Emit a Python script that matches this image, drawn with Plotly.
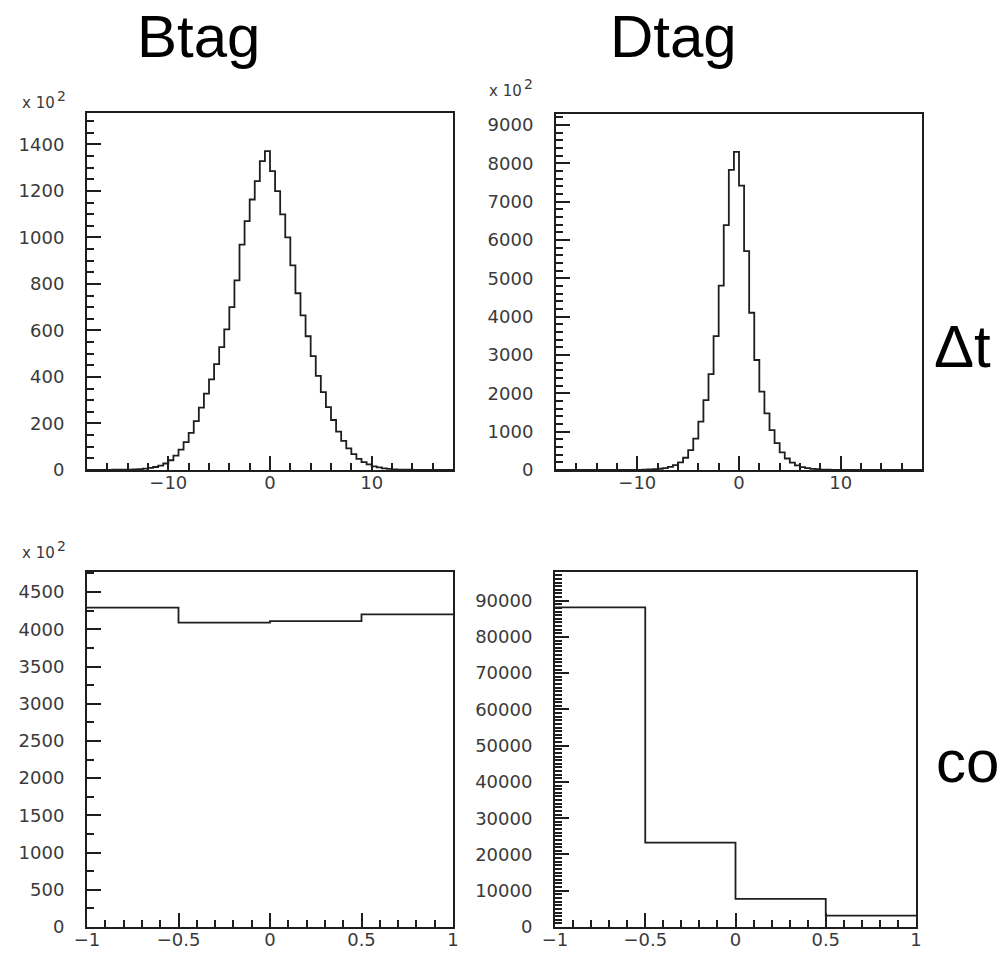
import plotly.graph_objects as go

# ---- data -------------------------------------------------------------
# Δt histograms: 72 bins of width 0.5 from -18 to 18 (counts in units of 10^2)
DT_LO, DT_BIN = -18.0, 0.5
BTAG_DT = [0, 0, 0, 0, 0.5, 1, 1, 1.5, 2, 3, 4, 6, 9, 13, 19, 28, 42, 62, 88, 120,
           160, 210, 268, 328, 390, 455, 528, 605, 700, 815, 969, 1070, 1163, 1242,
           1328, 1371, 1285, 1199, 1099, 1000, 880, 760, 665, 575, 490, 405, 335,
           270, 215, 165, 125, 93, 68, 48, 34, 24, 16, 11, 7, 5, 3, 2, 1.5, 1, 0.5,
           0, 0, 0, 0, 0, 0, 0]
DTAG_DT = [0, 0, 0, 0, 0, 0, 0, 0, 0, 0, 0, 0, 0, 1, 2, 3, 5, 8, 13, 20, 32, 50, 80,
           125, 200, 320, 520, 820, 1261, 1826, 2504, 3496, 4809, 6391, 7830, 8304,
           7420, 5713, 4104, 2870, 2043, 1478, 1043, 700, 460, 300, 190, 120, 75, 48,
           30, 19, 12, 7, 4, 2, 1, 0, 0, 0, 0, 0, 0, 0, 0, 0, 0, 0, 0, 0, 0, 0]

# cos histograms: 4 bins on [-1, 1]
COS_EDGES = [-1.0, -0.5, 0.0, 0.5, 1.0]
BTAG_COS = [4290, 4090, 4110, 4200]      # units of 10^2
DTAG_COS = [88150, 23270, 7730, 3120]

# tick labels
DT_XTICKS = [-10, 0, 10]
COS_XTICKS = [-1, -0.5, 0, 0.5, 1]
BTAG_DT_YTICKS = [0, 200, 400, 600, 800, 1000, 1200, 1400]
DTAG_DT_YTICKS = [0, 1000, 2000, 3000, 4000, 5000, 6000, 7000, 8000, 9000]
BTAG_COS_YTICKS = [0, 500, 1000, 1500, 2000, 2500, 3000, 3500, 4000, 4500]
DTAG_COS_YTICKS = [0, 10000, 20000, 30000, 40000, 50000, 60000, 70000, 80000, 90000]

COL_TITLES = ["Btag", "Dtag"]
ROW_TITLES = ["Δt", "co"]

# ---- helpers ----------------------------------------------------------
W, H = 999, 954
LINE = "#1e1e1e"
LABEL = "#3a3a3a"
TICKFONT = dict(family="DejaVu Sans", size=18, color=LABEL)


def fmt(v):
    s = ("%g" % v)
    return s.replace("-", "\u2212")


def step_xy(edges, vals):
    xs = list(edges[:-1]) + [edges[-1]]
    ys = list(vals) + [vals[-1]]
    return xs, ys


def dx(px):
    return px / W


def dy(py):
    return 1 - py / H


dt_edges = [DT_LO + DT_BIN * i for i in range(len(BTAG_DT) + 1)]

panels = [
    # (axis suffix, values, edges, x range, y range, xticks, x minor, yticks, y minor, box px)
    ("", BTAG_DT, dt_edges, [-18, 18], [0, 1535], DT_XTICKS, 2, BTAG_DT_YTICKS, 50,
     (87, 453, 113, 470)),
    ("2", DTAG_DT, dt_edges, [-18, 18], [0, 9290], DT_XTICKS, 2, DTAG_DT_YTICKS, 200,
     (556, 922, 114, 470)),
    ("3", BTAG_COS, COS_EDGES, [-1, 1], [0, 4770], COS_XTICKS, 0.1, BTAG_COS_YTICKS, 250,
     (87, 453, 572, 927)),
    ("4", DTAG_COS, COS_EDGES, [-1, 1], [0, 97900], COS_XTICKS, 0.1, DTAG_COS_YTICKS, 1000,
     (555, 916, 572, 927)),
]

fig = go.Figure()
layout = dict(
    width=W, height=H,
    margin=dict(l=0, r=0, t=0, b=0, autoexpand=False),
    paper_bgcolor="white", plot_bgcolor="white",
    showlegend=False,
)

for sid, vals, edges, xr, yr, xt, xminor, yt, yminor, (x0, x1, y0, y1) in panels:
    xs, ys = step_xy(edges, vals)
    fig.add_trace(go.Scatter(
        x=xs, y=ys, mode="lines", line=dict(shape="hv", color=LINE, width=1.8),
        xaxis="x" + sid, yaxis="y" + sid, hoverinfo="skip",
    ))
    common = dict(
        showline=True, linecolor=LINE, linewidth=2, mirror=True,
        showgrid=False, zeroline=False, ticks="inside", tickcolor=LINE,
        tickwidth=1.5, ticklen=14, tickfont=TICKFONT, automargin=False,
    )
    layout["xaxis" + sid] = dict(
        common, domain=[dx(x0), dx(x1)], range=xr, anchor="y" + sid,
        tickmode="array", tickvals=xt, ticktext=[fmt(v) for v in xt],
        minor=dict(ticks="inside", ticklen=7, tickwidth=1.5, tickcolor=LINE,
                   tick0=xr[0], dtick=xminor, showgrid=False),
        ticklabelstandoff=-5,
    )
    layout["yaxis" + sid] = dict(
        common, domain=[dy(y1), dy(y0)], range=yr, anchor="x" + sid,
        tickmode="array", tickvals=yt, ticktext=[fmt(v) for v in yt],
        minor=dict(ticks="inside", ticklen=7, tickwidth=1.5, tickcolor=LINE,
                   tick0=0, dtick=yminor, showgrid=False),
        ticklabelstandoff=17,
    )

annotations = []
BIG = dict(family="Liberation Sans", size=60, color="black")
# column headings
for text, cx in zip(COL_TITLES, [198, 673]):
    annotations.append(dict(text=text, x=dx(cx), y=dy(37), xref="paper", yref="paper",
                            xanchor="center", yanchor="middle", showarrow=False, font=BIG))
# row headings
annotations.append(dict(text=ROW_TITLES[0], x=dx(962), y=dy(347), xref="paper",
                        yref="paper", xanchor="center", yanchor="middle", showarrow=False,
                        font=BIG))
annotations.append(dict(text=ROW_TITLES[1], x=dx(934), y=dy(761), xref="paper",
                        yref="paper", xanchor="left", yanchor="middle", showarrow=False,
                        font=BIG))
# axis multipliers "x 10^2"
SMALL = dict(family="DejaVu Sans", size=15, color=LABEL)
for lx, ly in [(20, 103), (487, 91), (20, 553)]:
    annotations.append(dict(text="x 10", x=dx(lx), y=dy(ly), xref="paper", yref="paper",
                            xanchor="left", yanchor="middle", showarrow=False, font=SMALL))
    annotations.append(dict(text="2", x=dx(lx + 35), y=dy(ly - 7), xref="paper",
                            yref="paper", xanchor="left", yanchor="middle",
                            showarrow=False,
                            font=dict(family="DejaVu Sans", size=14, color=LABEL)))

layout["annotations"] = annotations
fig.update_layout(**layout)
fig.write_html("out.html")
